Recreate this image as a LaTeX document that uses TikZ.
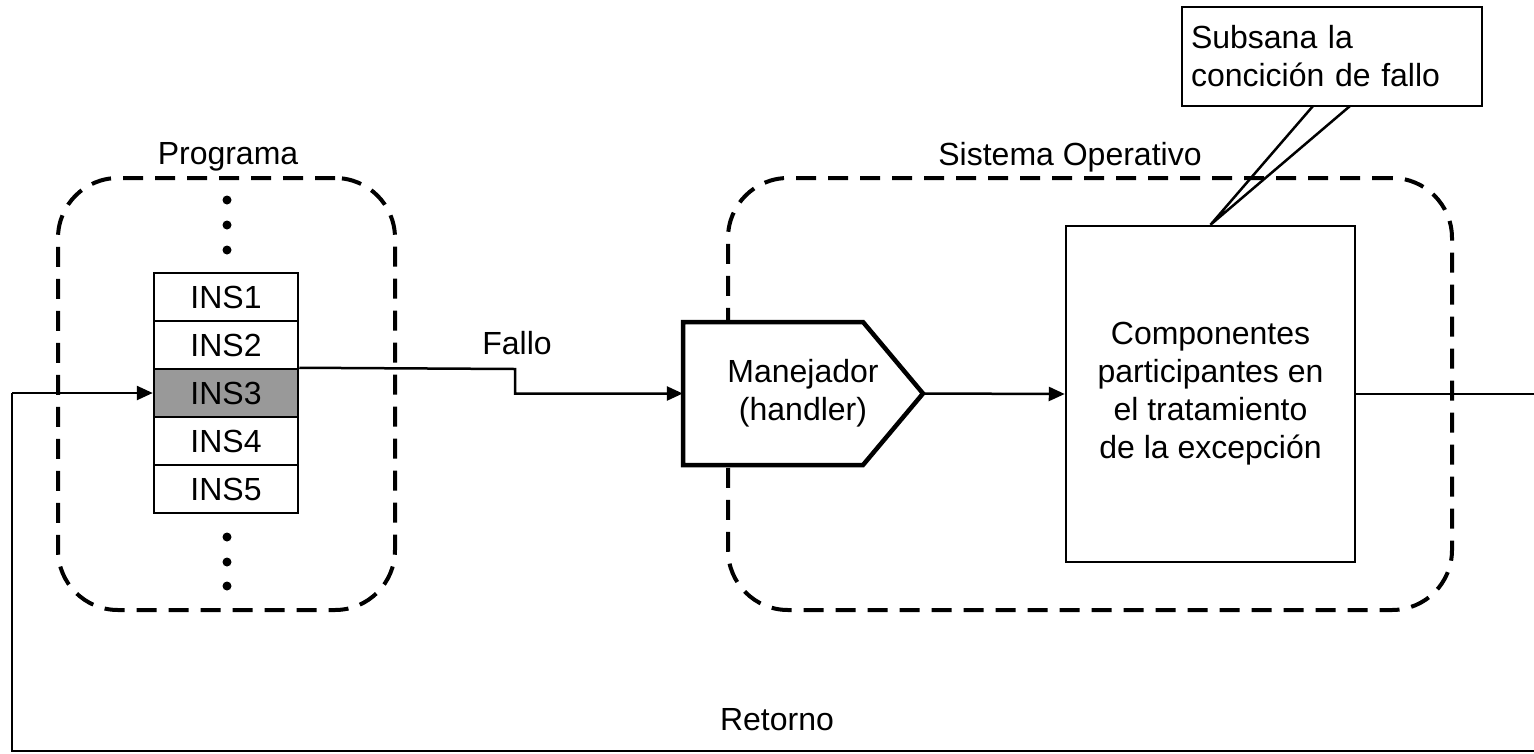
\documentclass[tikz,border=0pt]{standalone}
\usepackage{fontspec}
\setmainfont{Liberation Sans}
\usetikzlibrary{arrows.meta,calc}
\begin{document}
\begin{tikzpicture}[x=1pt,y=-1pt,
  every node/.style={font=\fontsize{32}{38}\selectfont, inner sep=0pt},
  ln/.style={line width=2.5pt},
  arr/.style={ln,-{Triangle[length=16pt,width=14pt]}},
  insbox/.style={draw, line width=2.5pt, minimum width=144pt, minimum height=48pt},
  container/.style={draw, dashed, line width=4pt, dash pattern=on 20pt off 12pt, rounded corners=60pt},
  dot/.style={circle, fill=black, minimum size=9pt}
]
\useasboundingbox (0,0) rectangle (1534,753);

% containers
\node[container, minimum width=337pt, minimum height=432pt] (prog) at (226.5,394) {};
\node[container, minimum width=724pt, minimum height=432pt] (so) at (1090,394) {};
\node (proglbl) at (228,157) {Programa};
\node (solbl) at (1070,157) {Sistema Operativo};

% dots
\node[dot] (d1) at (227,200) {};
\node[dot] (d2) at (227,225) {};
\node[dot] (d3) at (227,250) {};
\node[dot] (d4) at (227,537) {};
\node[dot] (d5) at (227,562) {};
\node[dot] (d6) at (227,586) {};

% instruction stack
\node[insbox] (ins1) at (226,297) {INS1};
\node[insbox] (ins2) at (226,345) {INS2};
\node[insbox, fill={rgb,255:red,153;green,153;blue,153}] (ins3) at (226,393) {INS3};
\node[insbox] (ins4) at (226,441) {INS4};
\node[insbox] (ins5) at (226,489) {INS5};

% handler
\coordinate (mnw) at (683,322);
\coordinate (mne) at (863,322);
\coordinate (mtip) at (923,393.5);
\coordinate (mse) at (863,465);
\coordinate (msw) at (683,465);
\draw[line width=4.5pt, line join=miter, fill=white] (mnw) -- (mne) -- (mtip) -- (mse) -- (msw) -- cycle;
\node[minimum width=240pt, minimum height=143pt, align=center] (man) at (803,393.5) {Manejador\\(handler)};

% components box
\node[draw, line width=2.5pt, minimum width=289pt, minimum height=336pt, align=center] (comp) at (1210.5,394)
  {Componentes\\participantes en\\el tratamiento\\de la excepción};

% callout
\node[draw, line width=2.5pt, minimum width=300pt, minimum height=99pt, align=left, text width=282pt] (call) at (1332,56.5)
  {Subsana la\\concición de fallo};
\coordinate (cl) at (1313,106);
\coordinate (cr) at (1350,106);
\draw[ln, line join=miter] (cl) -- (comp.north) -- (cr);

% Fallo
\coordinate (f1) at (515,369);
\coordinate (f2) at (515,393.5);
\draw[arr] (ins3.north east) -- (f1) -- (f2) -- (man.west);
\node (fallo) at (517,343) {Fallo};

% handler to components
\draw[arr] (man.east) -- (comp.west);

% return path
\coordinate (r1) at (1545,394);
\coordinate (r2) at (1545,751);
\coordinate (r3) at (12,751);
\coordinate (r4) at (12,393);
\draw[ln] (comp.east) -- (r1) -- (r2) -- (r3) -- (r4);
\draw[arr] (r4) -- (ins3.west);
\node (ret) at (777,720) {Retorno};
\end{tikzpicture}
\end{document}
